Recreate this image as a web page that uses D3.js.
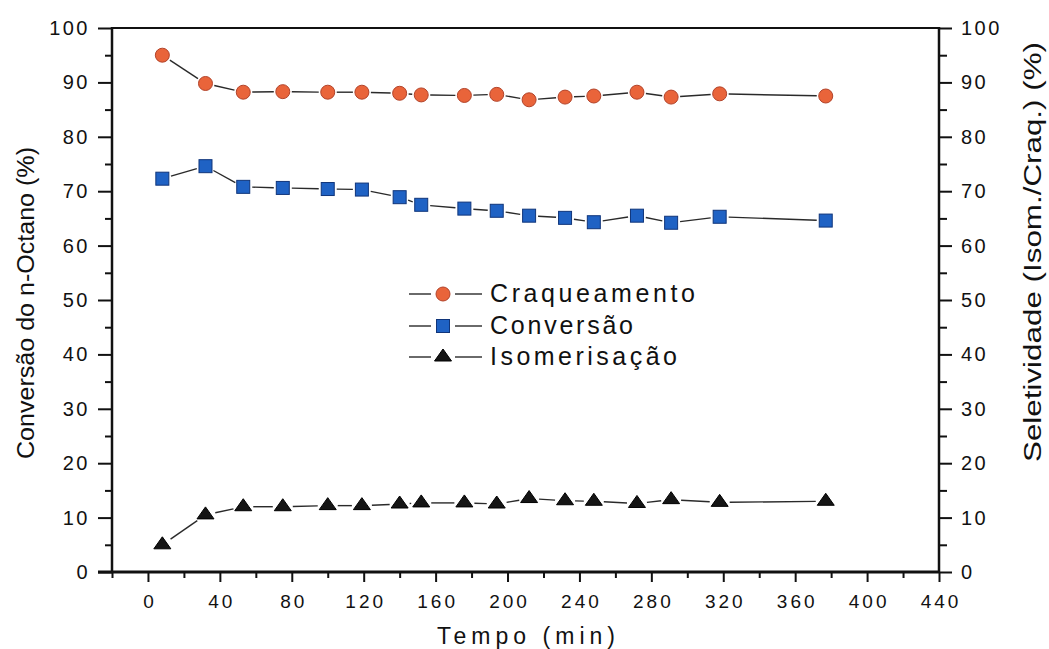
<!DOCTYPE html>
<html>
<head>
<meta charset="utf-8">
<script src="https://cdn.jsdelivr.net/npm/d3@7"></script>
<style>
  html, body { margin: 0; padding: 0; background: #fff; }
  svg { display: block; font-family: "Liberation Sans", Arial, sans-serif; }
</style>
</head>
<body>
<svg id="chart" width="1049" height="649"></svg>
<script>
// Reaction time (min)
const tempo = [8, 32, 53, 75, 100, 119, 140, 152, 176, 194, 212, 232, 248, 272, 291, 318, 377];
// Selectivity to cracking (%)
const craqueamento = [95.0, 89.8, 88.2, 88.3, 88.2, 88.2, 88.0, 87.7, 87.6, 87.8, 86.8, 87.3, 87.5, 88.2, 87.3, 87.9, 87.5];
// n-Octane conversion (%)
const conversao = [72.3, 74.6, 70.8, 70.6, 70.4, 70.3, 68.9, 67.5, 66.8, 66.4, 65.5, 65.1, 64.3, 65.5, 64.2, 65.3, 64.6];
// Selectivity to isomerisation (%)
const isomerisacao = [5.0, 10.5, 12.0, 12.0, 12.2, 12.2, 12.5, 12.7, 12.7, 12.5, 13.5, 13.1, 13.0, 12.6, 13.3, 12.8, 13.0];

const xMajorTicks = [0, 40, 80, 120, 160, 200, 240, 280, 320, 360, 400, 440];
const xMinorTicks = [-20, 20, 60, 100, 140, 180, 220, 260, 300, 340, 380, 420];
const yMajorTicks = [0, 10, 20, 30, 40, 50, 60, 70, 80, 90, 100];
const yMinorTicks = [5, 15, 25, 35, 45, 55, 65, 75, 85, 95];

const seriesNames = ["Craqueamento", "Conversão", "Isomerisação"];

const svg = d3.select("#chart");
const plotLeft = 112, plotRight = 939, plotTop = 28, plotBottom = 572;

const x = d3.scaleLinear().domain([-20, 440]).range([plotLeft, plotRight]);
const yL = d3.scaleLinear().domain([0, 100]).range([plotBottom, plotTop]);
const yR = d3.scaleLinear().domain([0, 100]).range([plotBottom, plotTop]);

const ink = "#111";

// ---- axes ----
function styleAxis(g, width) {
  g.select(".domain").remove();
  g.selectAll(".tick line").attr("stroke", ink).attr("stroke-width", width);
}

// bottom axis
const gxMinor = svg.append("g").attr("transform", `translate(0,${plotBottom})`)
  .call(d3.axisBottom(x).tickValues(xMinorTicks).tickSize(6).tickFormat(""));
styleAxis(gxMinor, 2);
const gx = svg.append("g").attr("transform", `translate(0,${plotBottom})`)
  .call(d3.axisBottom(x).tickValues(xMajorTicks).tickSize(10).tickPadding(13).tickFormat(d3.format("d")));
styleAxis(gx, 2);
gx.selectAll(".tick text")
  .attr("fill", ink).attr("font-size", 19).attr("letter-spacing", "3px")
  .attr("dx", "1.5px").attr("font-family", "Liberation Sans, Arial, sans-serif");

// left axis
const gyMinor = svg.append("g").attr("transform", `translate(${plotLeft},0)`)
  .call(d3.axisLeft(yL).tickValues(yMinorTicks).tickSize(7).tickFormat(""));
styleAxis(gyMinor, 2);
const gy = svg.append("g").attr("transform", `translate(${plotLeft},0)`)
  .call(d3.axisLeft(yL).tickValues(yMajorTicks).tickSize(14).tickPadding(8).tickFormat(d3.format("d")));
styleAxis(gy, 2);
gy.selectAll(".tick text")
  .attr("fill", ink).attr("font-size", 20).attr("letter-spacing", "2.5px")
  .attr("font-family", "Liberation Sans, Arial, sans-serif");

// right axis
const gyrMinor = svg.append("g").attr("transform", `translate(${plotRight},0)`)
  .call(d3.axisRight(yR).tickValues(yMinorTicks).tickSize(8).tickFormat(""));
styleAxis(gyrMinor, 2);
const gyr = svg.append("g").attr("transform", `translate(${plotRight},0)`)
  .call(d3.axisRight(yR).tickValues(yMajorTicks).tickSize(13).tickPadding(9).tickFormat(d3.format("d")));
styleAxis(gyr, 2);
gyr.selectAll(".tick text")
  .attr("fill", ink).attr("font-size", 20).attr("letter-spacing", "2.5px")
  .attr("font-family", "Liberation Sans, Arial, sans-serif");

// frame lines
svg.append("line").attr("x1", plotLeft).attr("x2", plotRight).attr("y1", plotTop).attr("y2", plotTop)
  .attr("stroke", ink).attr("stroke-width", 2);
svg.append("line").attr("x1", plotLeft).attr("x2", plotLeft).attr("y1", plotTop - 1).attr("y2", plotBottom + 1)
  .attr("stroke", ink).attr("stroke-width", 2.5);
svg.append("line").attr("x1", plotRight).attr("x2", plotRight).attr("y1", plotTop - 1).attr("y2", plotBottom + 1)
  .attr("stroke", ink).attr("stroke-width", 2.5);
svg.append("line").attr("x1", plotLeft - 14).attr("x2", plotRight).attr("y1", plotBottom).attr("y2", plotBottom)
  .attr("stroke", ink).attr("stroke-width", 3);

// ---- axis titles ----
svg.append("text")
  .attr("transform", "translate(34,303) rotate(-90)")
  .attr("text-anchor", "middle").attr("font-size", 23).attr("fill", ink)
  .attr("textLength", 312).attr("lengthAdjust", "spacingAndGlyphs")
  .text("Conversão do n-Octano (%)");

svg.append("text")
  .attr("transform", "translate(1041,252) rotate(-90)")
  .attr("text-anchor", "middle").attr("font-size", 23).attr("fill", ink)
  .attr("textLength", 420).attr("lengthAdjust", "spacingAndGlyphs")
  .text("Seletividade (Isom./Craq.) (%)");

svg.append("text")
  .attr("x", 526).attr("y", 644)
  .attr("text-anchor", "middle").attr("font-size", 23).attr("fill", ink)
  .attr("textLength", 178).attr("lengthAdjust", "spacing")
  .text("Tempo (min)");

// ---- series ----
const series = [
  { name: seriesNames[0], values: craqueamento, scale: yR, shape: "circle", fill: "#e9643a", stroke: "#b2432a", gap: 7 },
  { name: seriesNames[1], values: conversao, scale: yL, shape: "square", fill: "#1f62c4", stroke: "#10357a", gap: 7 },
  { name: seriesNames[2], values: isomerisacao, scale: yR, shape: "triangle", fill: "#151515", stroke: "#000", gap: 8 }
];

// triangle marker: 17 px base, 12 px tall, centred on its centroid
const triPath = "M0,-8L8.5,4L-8.5,4Z";

function drawMarker(g, shape, fill, stroke) {
  if (shape === "circle") {
    g.append("circle").attr("r", 7).attr("fill", fill).attr("stroke", stroke).attr("stroke-width", 1);
  } else if (shape === "square") {
    g.append("rect").attr("x", -6.5).attr("y", -6.5).attr("width", 13).attr("height", 13)
      .attr("fill", fill).attr("stroke", stroke).attr("stroke-width", 1);
  } else {
    g.append("path").attr("d", triPath)
      .attr("fill", fill).attr("stroke", stroke).attr("stroke-width", 1);
  }
}

series.forEach(s => {
  const pts = tempo.map((t, i) => [x(t), s.scale(s.values[i])]);
  const g = svg.append("g");
  // connecting segments, trimmed short of each marker
  for (let i = 0; i < pts.length - 1; i++) {
    const [x1, y1] = pts[i], [x2, y2] = pts[i + 1];
    const len = Math.hypot(x2 - x1, y2 - y1);
    const ux = (x2 - x1) / len, uy = (y2 - y1) / len;
    const gap = s.gap + 2;
    if (len > 2 * gap) {
      g.append("line")
        .attr("x1", x1 + ux * gap).attr("y1", y1 + uy * gap)
        .attr("x2", x2 - ux * gap).attr("y2", y2 - uy * gap)
        .attr("stroke", "#2a2a2a").attr("stroke-width", 1.4);
    }
  }
  pts.forEach(p => {
    const m = g.append("g").attr("transform", `translate(${p[0]},${p[1]})`);
    drawMarker(m, s.shape, s.fill, s.stroke);
  });
});

// ---- legend ----
const legendRows = [294, 326, 357];
const legendTextLen = [205, 143, 187];
series.forEach((s, i) => {
  const yy = legendRows[i];
  const g = svg.append("g");
  g.append("line").attr("x1", 409).attr("x2", 431).attr("y1", yy).attr("y2", yy)
    .attr("stroke", "#2a2a2a").attr("stroke-width", 1.4);
  g.append("line").attr("x1", 455).attr("x2", 482).attr("y1", yy).attr("y2", yy)
    .attr("stroke", "#2a2a2a").attr("stroke-width", 1.4);
  const m = g.append("g").attr("transform", `translate(443,${yy})`);
  drawMarker(m, s.shape, s.fill, s.stroke);
  g.append("text").attr("x", 490).attr("y", yy + 8)
    .attr("font-size", 25).attr("fill", ink)
    .attr("textLength", legendTextLen[i]).attr("lengthAdjust", "spacing")
    .text(s.name);
});
</script>
</body>
</html>
